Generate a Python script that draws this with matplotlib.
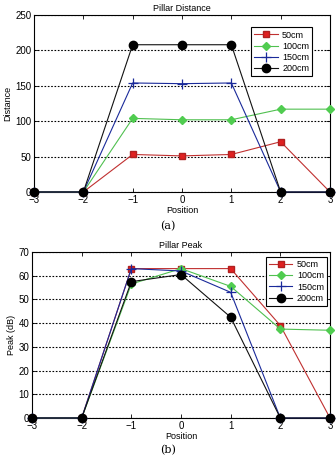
import matplotlib
matplotlib.use('Agg')
import matplotlib.pyplot as plt

positions = [-3, -2, -1, 0, 1, 2, 3]
labels = ['50cm', '100cm', '150cm', '200cm']

dist_50 = [0, 0, 53, 51, 53, 71, 0]
dist_100 = [0, 0, 104, 102, 102, 117, 117]
dist_150 = [0, 0, 154, 153, 154, 0, 0]
dist_200 = [0, 0, 208, 208, 208, 0, 0]

peak_50 = [0, 0, 63, 63, 63, 39, 0]
peak_100 = [0, 0, 56.5, 63, 55.5, 37.5, 37]
peak_150 = [0, 0, 63, 62, 53, 0, 0]
peak_200 = [0, 0, 57.5, 60.5, 42.5, 0, 0]

styles = [
    dict(color='#c03030', marker='s', mfc='#e02020', mec='#b02020', ms=5),
    dict(color='#50c050', marker='D', mfc='#50cc50', mec='#50cc50', ms=4.5),
    dict(color='#1a2a9a', marker='+', mfc='#1a2a9a', mec='#1a2a9a', ms=7, mew=0.9),
    dict(color='#111111', marker='o', mfc='#000000', mec='#000000', ms=6),
]

plt.rcParams['font.family'] = ['Liberation Sans', 'DejaVu Sans']
plt.rcParams['font.size'] = 6.5

fig = plt.figure(figsize=(3.36, 4.55), dpi=100)
ax1 = fig.add_axes([34 / 336, 1 - 192 / 455, 296 / 336, 177 / 455])
ax2 = fig.add_axes([32 / 336, 1 - 418 / 455, 298 / 336, 166 / 455])


def draw(ax, series, title, ylabel, ylim, yticks, anchor):
    for vals, lab, st in zip(series, labels, styles):
        ax.plot(positions, vals, label=lab, lw=0.8, clip_on=False, zorder=3, **st)
    ax.set_xlim(-3, 3)
    ax.set_ylim(*ylim)
    ax.set_xticks(positions)
    ax.set_yticks(yticks)
    ax.yaxis.grid(True, linestyle=(0, (1.5, 1.5)), color='black', lw=0.8)
    ax.tick_params(direction='in', length=3, width=0.6, top=True, right=True, pad=2,
                   labelsize=7)
    for s in ax.spines.values():
        s.set_linewidth(0.8)
    ax.set_title(title, fontsize=6.5, pad=3)
    ax.set_xlabel('Position', fontsize=6.5, labelpad=1)
    ax.set_ylabel(ylabel, fontsize=6.5, labelpad=2)
    leg = ax.legend(loc='upper right', bbox_to_anchor=anchor, fontsize=6.5, fancybox=False,
                    framealpha=1, edgecolor='black', handlelength=2.6, borderpad=0.35,
                    labelspacing=0.25, handletextpad=0.5, borderaxespad=0)
    leg.get_frame().set_linewidth(0.8)


draw(ax1, [dist_50, dist_100, dist_150, dist_200], 'Pillar Distance', 'Distance',
     (0, 250), range(0, 251, 50), (0.94, 0.93))
draw(ax2, [peak_50, peak_100, peak_150, peak_200], 'Pillar Peak', 'Peak (dB)',
     (0, 70), range(0, 71, 10), (0.99, 0.97))

fig.text(0.5, 1 - 226 / 455, '(a)', ha='center', va='center', family='DejaVu Serif', fontsize=8)
fig.text(0.5, 1 - 450 / 455, '(b)', ha='center', va='center', family='DejaVu Serif', fontsize=8)

fig.savefig('out.png', dpi=100)
